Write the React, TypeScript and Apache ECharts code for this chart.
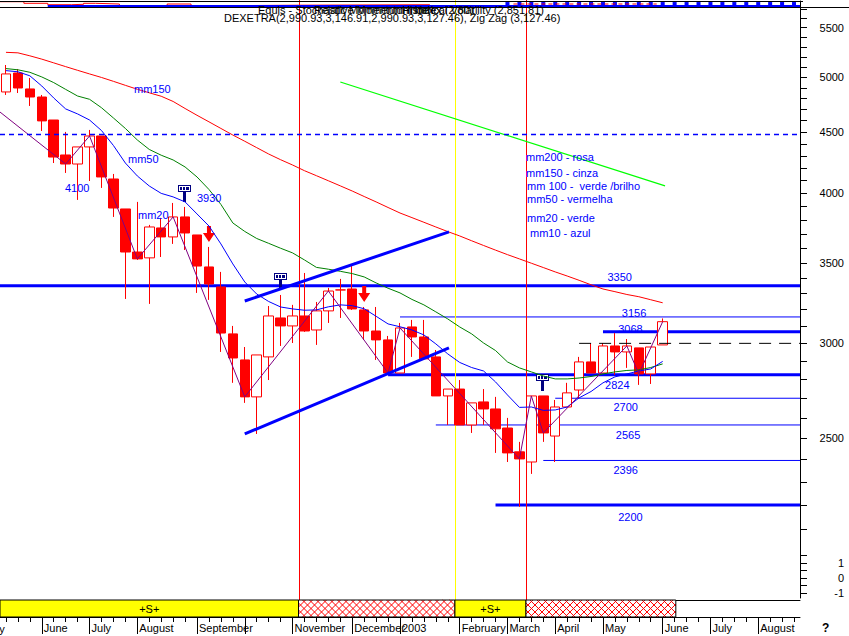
import React, { useEffect, useRef } from 'react';
import * as echarts from 'echarts';

// ---------------- data (weekly bars, week ending Friday) ----------------
const FIRST_FRIDAY = '2002-05-17';
const WEEK_SLOTS = 67;

const opens = [4861, 5041, 4889, 4814, 4606, 4307, 4233, 4374, 4467, 4113, 3883, 3575, 3535, 3744, 3680, 3824, 3694, 3474, 3343, 3055, 2906, 2707, 2923, 3150, 3102, 3162, 3078, 3193, 3324, 3330, 3199, 3072, 3020, 2834, 3096, 3037, 2923, 2712, 2748, 2565, 2681, 2645, 2550, 2436, 2389, 2712, 2511, 2655, 2743, 2895, 2834, 2985, 2951, 2974, 2829, 2990.93];
const closes = [5032, 4898, 4814, 4598, 4290, 4233, 4374, 4467, 4129, 3890, 3575, 3528, 3751, 3680, 3824, 3708, 3480, 3362, 3060, 2917, 2707, 2934, 3162, 3102, 3162, 3072, 3193, 3317, 3324, 3205, 3072, 3020, 2834, 3090, 3037, 2912, 2712, 2748, 2565, 2676, 2645, 2546, 2431, 2403, 2712, 2526, 2655, 2728, 2895, 2834, 2985, 2951, 2985, 2829, 2979, 3127.46];
const lows = [4833, 4851, 4732, 4510, 4241, 4161, 3951, 4097, 4043, 3824, 3267, 3521, 3236, 3541, 3631, 3589, 3305, 3261, 2951, 2781, 2676, 2521, 2796, 2985, 3002, 3067, 2991, 3120, 3150, 3199, 3020, 2906, 2834, 2834, 2923, 2912, 2712, 2565, 2565, 2526, 2565, 2431, 2389, 2192, 2335, 2483, 2389, 2655, 2697, 2834, 2834, 2824, 2862, 2770, 2775, 2990.93];
const highs = [5119, 5080, 4993, 4833, 4606, 4502, 4374, 4519, 4467, 4153, 3883, 3936, 3766, 3817, 3928, 3898, 3694, 3610, 3441, 3102, 2979, 2934, 3223, 3292, 3230, 3434, 3248, 3337, 3395, 3480, 3217, 3217, 3043, 3120, 3138, 3138, 2962, 2748, 2796, 2676, 2748, 2707, 2600, 2483, 2712, 2712, 2691, 2781, 2923, 3002, 3002, 3060, 3025, 2974, 2979, 3146.91];

const maBlue = [5064, 5053, 5014, 4917, 4805, 4705, 4660, 4606, 4514, 4386, 4241, 4137, 4058, 4001, 3974, 3936, 3846, 3758, 3631, 3494, 3375, 3298, 3251, 3217, 3205, 3197, 3199, 3218, 3230, 3225, 3206, 3160, 3114, 3097, 3078, 3049, 2997, 2940, 2892, 2864, 2845, 2786, 2717, 2653, 2655, 2638, 2640, 2655, 2702, 2735, 2781, 2813, 2829, 2845, 2856, 2898];
const maGreen = [5084, 5072, 5048, 5003, 4949, 4885, 4823, 4793, 4716, 4624, 4532, 4433, 4353, 4305, 4266, 4209, 4129, 4031, 3917, 3780, 3719, 3669, 3635, 3601, 3569, 3521, 3471, 3459, 3445, 3430, 3408, 3369, 3335, 3305, 3264, 3230, 3187, 3144, 3096, 3055, 3002, 2959, 2895, 2862, 2840, 2818, 2802, 2802, 2807, 2815, 2829, 2840, 2848, 2851, 2864, 2884];
const maRed = [5245, 5240, 5210, 5177, 5140, 5103, 5067, 5032, 4998, 4961, 4923, 4886, 4853, 4821, 4773, 4709, 4648, 4590, 4532, 4475, 4422, 4368, 4315, 4268, 4225, 4179, 4139, 4099, 4059, 4019, 3977, 3936, 3894, 3853, 3819, 3785, 3751, 3718, 3687, 3653, 3620, 3588, 3557, 3528, 3499, 3470, 3441, 3414, 3386, 3357, 3330, 3313, 3295, 3281, 3262, 3243];

const zigzagStart = [-0.5, 4677];
const zigzagPivots = [5, 7, 11, 14, 20, 27, 32, 33, 43, 44, 45, 52, 53, 55];
const channelUpper = [[20, 3254], [37.1, 3716]];
const channelLower = [[20, 2521], [37.1, 2974]];
const greenTrend = [[28, 4955], [55.2, 4059]];
const dashedBlueLevel = 4480;
const dashedBlackLevel = [48, 3000];

const levels = [3350, 3156, 3068, 2824, 2700, 2565, 2396, 2200];
const levelStarts = [-0.5, 33, 50, 32, 46, 36, 45, 41];

const flagWeeks = [15, 23, 45];
const sellArrowWeeks = [17, 30];
const verticalMarks = [24.5, 37.6, 43.55];
const signalRegions = [[-0.5, 24.5, 1], [24.5, 37.6, 0], [37.6, 43.55, 1], [43.55, 56.1, 0]];

const priceLabels = [2500, 3000, 3500, 4000, 4500, 5000, 5500];
const priceTicks = [2100, 2200, 2300, 2400, 2500, 2600, 2700, 2800, 2900, 3000, 3100, 3200, 3300, 3400, 3500, 3600, 3700, 3800, 3900, 4000, 4100, 4200, 4300, 4400, 4500, 4600, 4700, 4800, 4900, 5000, 5100, 5200, 5300, 5400, 5500, 5600, 5700];
const oscLabels = [-1, 0, 1];
const oscTicks = [-1, -0.5, 0, 0.5, 1, 1.5];
const hiddenMonthLabels = ['2002-10'];

// top indicator strip (0..1)
const topRedSteps = [[-0.5, 0.9], [1.5, 0.67], [3.5, 0.47], [5.5, 0.53], [6.5, 0.67], [7.5, 0.57], [9.5, 0.33], [13.5, 0.57], [15.5, 0.33], [18.5, 0.4], [24.5, 0.47], [35.5, 0.47]];
const topRedDashSteps = [[42.5, 0.57], [54.5, 0.57]];
const topBlueSteps = [[3.5, 0.3], [66.5, 0.3]];
const topCombWeeks = [42, 43, 44, 45, 46, 47, 48, 49, 50, 51, 52, 53, 54, 55, 56, 57, 58, 59, 60, 61, 62, 63, 64, 65, 66];

// ---------------- styles / layout ----------------
const BLUE = '#0000ff';
const RED = '#ff0000';
const NAVY = '#000080';
const YELLOW = '#ffff00';
const FONT = '"Liberation Sans", Arial, Helvetica, sans-serif';
const X_MIN = -0.5;
const X_MAX = 66.5;
const P_MIN = 1840;
const P_MAX = 5711;
const levelWidths = [3, 1, 3, 3, 1, 1, 1, 3];
const levelLabelAt = [51.4, 52.6, 52.3, 51.2, 51.9, 52.1, 51.9, 52.3];
const levelLabelDy = [-9, -4, -3, 10, 9, 10, 10, 12];
const verticalMarkColors = [RED, YELLOW, RED];

const L = Math.log;
const MONTHS = ['January', 'February', 'March', 'April', 'May', 'June', 'July', 'August', 'September', 'October', 'November', 'December'];

const categories: string[] = Array.from({ length: WEEK_SLOTS }, (_, i) =>
  new Date(Date.parse(FIRST_FRIDAY + 'T00:00:00Z') + i * 7 * 86400000).toISOString().slice(0, 10)
);

function monthLabel(i: number): string | null {
  const c = categories[i];
  if (!c) return null;
  const d = new Date(c + 'T00:00:00Z');
  if (d.getUTCDate() > 7) return null;
  if (hiddenMonthLabels.includes(c.slice(0, 7))) return '';
  const m = d.getUTCMonth();
  return m === 0 ? String(d.getUTCFullYear()) : MONTHS[m];
}

function txt(text: string, x: number, y: number, fill = '#000', align = 'left', size = 11, weight = 'normal') {
  return {
    type: 'text', x, y, z: 100, silent: true,
    style: {
      text, fill, font: `${weight} ${size}px ${FONT}`,
      align, textAlign: align, verticalAlign: 'middle', textVerticalAlign: 'middle',
    },
  };
}

function buildOption(): any {
  const textStyle = (fill: string, size = 11) => ({ fill, font: `normal ${size}px ${FONT}` });

  const lineSeries = (data: any[], color: string, width: number, xAxisIndex: number, extra: any = {}) => ({
    type: 'line', xAxisIndex, yAxisIndex: xAxisIndex === 0 ? 0 : 1, data, symbol: 'none', silent: true,
    lineStyle: { color, width, ...(extra.lineStyle || {}) },
  });

  const series: any[] = [
    // top strip
    { type: 'line', xAxisIndex: 0, yAxisIndex: 0, data: topRedSteps, step: 'end', symbol: 'none', silent: true, lineStyle: { color: RED, width: 1 } },
    { type: 'line', xAxisIndex: 0, yAxisIndex: 0, data: topRedDashSteps, step: 'end', symbol: 'none', silent: true, lineStyle: { color: RED, width: 1, type: [4, 3] } },
    { type: 'line', xAxisIndex: 0, yAxisIndex: 0, data: topBlueSteps, step: 'end', symbol: 'none', silent: true, lineStyle: { color: BLUE, width: 2 } },
    {
      type: 'custom', xAxisIndex: 0, yAxisIndex: 0, silent: true,
      data: topCombWeeks.map((w) => [w, 0.85]),
      renderItem: (_p: any, api: any) => {
        const a = api.coord([api.value(0), api.value(1)]);
        const b = api.coord([api.value(0), 0.25]);
        return { type: 'rect', shape: { x: a[0] - 2, y: a[1], width: 4, height: b[1] - a[1] }, style: { fill: BLUE } };
      },
    },
    // candles
    {
      type: 'candlestick', xAxisIndex: 1, yAxisIndex: 1, barWidth: 10, silent: true,
      data: opens.map((o, i) => [L(o), L(closes[i]), L(lows[i]), L(highs[i])]),
      itemStyle: { color: '#ffffff', color0: RED, borderColor: RED, borderColor0: RED, borderColorDoji: RED, borderWidth: 1 },
    },
    // moving averages
    { type: 'line', xAxisIndex: 1, yAxisIndex: 1, data: maRed.map(L), symbol: 'none', silent: true, lineStyle: { color: RED, width: 1 } },
    { type: 'line', xAxisIndex: 1, yAxisIndex: 1, data: maGreen.map(L), symbol: 'none', silent: true, lineStyle: { color: '#008000', width: 1 } },
    { type: 'line', xAxisIndex: 1, yAxisIndex: 1, data: maBlue.map(L), symbol: 'none', silent: true, lineStyle: { color: BLUE, width: 1 } },
    // zig zag
    lineSeries([[zigzagStart[0], L(zigzagStart[1])], ...zigzagPivots.map((i) => [i, L(closes[i])])], '#800080', 1, 2),
    // channel + trend
    lineSeries(channelUpper.map(([x, p]) => [x, L(p)]), BLUE, 3, 2),
    lineSeries(channelLower.map(([x, p]) => [x, L(p)]), BLUE, 3, 2),
    lineSeries(greenTrend.map(([x, p]) => [x, L(p)]), '#00ff00', 1.2, 2),
    lineSeries([[X_MIN, L(dashedBlueLevel)], [X_MAX, L(dashedBlueLevel)]], BLUE, 1.5, 2, { lineStyle: { type: [5, 4] } }),
    lineSeries([[dashedBlackLevel[0], L(dashedBlackLevel[1])], [X_MAX, L(dashedBlackLevel[1])]], '#000000', 1, 2, { lineStyle: { type: [12, 8] } }),
    // horizontal levels
    {
      type: 'custom', xAxisIndex: 2, yAxisIndex: 1, silent: true,
      data: levels.map((p, i) => [levelStarts[i], L(p), i]),
      renderItem: (_p: any, api: any) => {
        const i = api.value(2);
        const y = api.value(1);
        const s = api.coord([api.value(0), y]);
        const e = api.coord([X_MAX, y]);
        const lp = api.coord([levelLabelAt[i], y]);
        return {
          type: 'group', children: [
            { type: 'line', shape: { x1: s[0], y1: s[1], x2: e[0], y2: e[1] }, style: { stroke: BLUE, lineWidth: levelWidths[i] } },
            {
              type: 'text', x: lp[0], y: lp[1] + levelLabelDy[i],
              style: { text: String(levels[i]), ...textStyle(BLUE), align: 'center', textAlign: 'center', verticalAlign: 'middle', textVerticalAlign: 'middle' },
            },
          ],
        };
      },
    },
    // vertical event lines
    {
      type: 'custom', xAxisIndex: 2, yAxisIndex: 1, silent: true,
      data: verticalMarks.map((v) => [v, L(3000)]),
      renderItem: (params: any, api: any) => {
        const x = Math.round(api.coord([api.value(0), api.value(1)])[0]) + 0.5;
        const cs = params.coordSys;
        return { type: 'line', shape: { x1: x, y1: 0, x2: x, y2: cs.y + cs.height + 2 }, style: { stroke: verticalMarkColors[params.dataIndex], lineWidth: 1 } };
      },
    },
    // exit flags
    {
      type: 'custom', xAxisIndex: 1, yAxisIndex: 1, silent: true,
      data: flagWeeks.map((w) => [w, L(highs[w])]),
      renderItem: (_p: any, api: any) => {
        const p = api.coord([api.value(0), api.value(1)]);
        const x = Math.round(p[0]);
        const y = Math.round(p[1]);
        return {
          type: 'group', children: [
            { type: 'rect', shape: { x: x - 2, y: y - 16, width: 3, height: 11 }, style: { fill: NAVY } },
            { type: 'rect', shape: { x: x - 7, y: y - 22, width: 13, height: 7 }, style: { fill: NAVY } },
            { type: 'rect', shape: { x: x - 6, y: y - 21, width: 11, height: 5 }, style: { fill: '#ffffff' } },
            { type: 'rect', shape: { x: x - 5, y: y - 20, width: 2, height: 3 }, style: { fill: NAVY } },
            { type: 'rect', shape: { x: x - 2, y: y - 20, width: 2, height: 3 }, style: { fill: NAVY } },
            { type: 'rect', shape: { x: x + 1, y: y - 20, width: 3, height: 3 }, style: { fill: NAVY } },
          ],
        };
      },
    },
    // sell arrows
    {
      type: 'custom', xAxisIndex: 1, yAxisIndex: 1, silent: true,
      data: sellArrowWeeks.map((w) => [w, L(highs[w])]),
      renderItem: (_p: any, api: any) => {
        const p = api.coord([api.value(0), api.value(1)]);
        const x = p[0];
        const t = p[1] - 5;
        return {
          type: 'polygon',
          shape: { points: [[x - 2, t - 16], [x + 2, t - 16], [x + 2, t - 9], [x + 6, t - 9], [x, t], [x - 6, t - 9], [x - 2, t - 9]] },
          style: { fill: RED },
        };
      },
    },
    // +S+ signal strip
    {
      type: 'custom', xAxisIndex: 3, yAxisIndex: 3, silent: true,
      data: signalRegions,
      renderItem: (params: any, api: any) => {
        const a = api.coord([api.value(0), 0.5]);
        const b = api.coord([api.value(1), 0.5]);
        const cs = params.coordSys;
        const x0 = a[0], x1 = b[0], y0 = cs.y, y1 = cs.y + cs.height;
        const kind = api.value(2);
        const children: any[] = [];
        children.push({ type: 'rect', shape: { x: x0, y: y0, width: x1 - x0, height: y1 - y0 }, style: { fill: kind ? YELLOW : '#ffffff' } });
        if (kind) {
          children.push({
            type: 'text', x: (x0 + x1) / 2, y: (y0 + y1) / 2,
            style: { text: '+S+', ...textStyle('#000'), align: 'center', textAlign: 'center', verticalAlign: 'middle', textVerticalAlign: 'middle' },
          });
        } else {
          const h = y1 - y0;
          for (let s = x0 - h; s < x1; s += 7) {
            const t0 = Math.max(0, x0 - s);
            const t1 = Math.min(h, x1 - s);
            if (t1 <= t0) continue;
            children.push({ type: 'line', shape: { x1: s + t0, y1: y0 + t0, x2: s + t1, y2: y0 + t1 }, style: { stroke: RED, lineWidth: 1 } });
            children.push({ type: 'line', shape: { x1: s + t0, y1: y1 - t0, x2: s + t1, y2: y1 - t1 }, style: { stroke: RED, lineWidth: 1 } });
          }
        }
        children.push({ type: 'rect', shape: { x: x0, y: y0, width: x1 - x0, height: y1 - y0 }, style: { fill: 'none', stroke: '#000', lineWidth: 1 } });
        return { type: 'group', children };
      },
    },
  ];

  const noZero = { onZero: false };
  const hiddenValueX = (gridIndex: number) => ({
    type: 'value', gridIndex, min: X_MIN, max: X_MAX, show: false,
    axisLine: { show: false, ...noZero }, axisTick: { show: false }, axisLabel: { show: false }, splitLine: { show: false },
  });
  const labelStyle = { color: '#000', fontSize: 11, fontFamily: FONT };

  return {
    animation: false,
    backgroundColor: '#ffffff',
    textStyle: { fontFamily: FONT, fontSize: 11 },
    grid: [
      { left: 0, top: 1, width: 800, height: 7 },
      { left: 0, top: 8, width: 800, height: 590 },
      { left: 0, top: 600, width: 800, height: 17 },
    ],
    xAxis: [
      hiddenValueX(0),
      { type: 'category', gridIndex: 1, data: categories, show: false, boundaryGap: true, axisLine: { show: false, ...noZero } },
      hiddenValueX(1),
      {
        type: 'value', gridIndex: 2, min: X_MIN, max: X_MAX, position: 'top',
        axisLine: { show: true, ...noZero, lineStyle: { color: '#000', width: 1 } }, axisTick: { show: false }, axisLabel: { show: false }, splitLine: { show: false },
      },
      {
        type: 'category', gridIndex: 2, data: categories, position: 'bottom', boundaryGap: true,
        axisLine: { show: true, ...noZero, lineStyle: { color: '#000', width: 1 } },
        axisTick: { show: true, interval: 0, alignWithLabel: true, length: 5, lineStyle: { color: '#000' } },
        axisLabel: { show: false }, splitLine: { show: false },
      },
      {
        type: 'category', gridIndex: 2, data: categories, position: 'bottom', boundaryGap: true,
        axisLine: { show: false, ...noZero },
        axisTick: { show: true, alignWithLabel: true, interval: (i: number) => monthLabel(i) !== null, length: 17, lineStyle: { color: '#000' } },
        axisLabel: {
          show: true, interval: (i: number) => !!monthLabel(i), formatter: (_v: any, i: number) => monthLabel(i) || '',
          align: 'left', margin: 5, padding: [0, 0, 0, 2], ...labelStyle,
        },
        splitLine: { show: false },
      },
    ],
    yAxis: [
      {
        type: 'value', gridIndex: 0, min: 0, max: 1, position: 'right',
        axisLine: { show: true, ...noZero, lineStyle: { color: '#000' } }, axisTick: { show: false }, axisLabel: { show: false }, splitLine: { show: false },
      },
      {
        type: 'value', gridIndex: 1, min: L(P_MIN), max: L(P_MAX), position: 'right',
        axisLine: { show: true, ...noZero, lineStyle: { color: '#000', width: 1 } },
        axisTick: { show: true, length: 7, customValues: priceTicks.map(L), lineStyle: { color: '#000' } },
        axisLabel: {
          show: true, customValues: priceLabels.map(L), formatter: (v: number) => String(Math.round(Math.exp(v))),
          align: 'right', margin: 44, ...labelStyle,
        },
        splitLine: { show: false },
      },
      {
        type: 'value', gridIndex: 1, min: -4 / 3, max: 38, position: 'right',
        axisLine: { show: false, ...noZero },
        axisTick: { show: true, length: 7, customValues: oscTicks, lineStyle: { color: '#000' } },
        axisLabel: { show: true, customValues: oscLabels, formatter: (v: number) => String(Math.round(v)), align: 'right', margin: 44, ...labelStyle },
        splitLine: { show: false },
      },
      { type: 'value', gridIndex: 2, min: 0, max: 1, show: false, axisLine: { show: false, ...noZero }, splitLine: { show: false } },
    ],
    series,
    graphic: {
      elements: [
        { type: 'line', z: 50, silent: true, shape: { x1: 0, y1: 1.5, x2: 803, y2: 1.5 }, style: { stroke: '#000', lineWidth: 1 } },
        { type: 'line', z: 50, silent: true, shape: { x1: 0, y1: 7.5, x2: 849, y2: 7.5 }, style: { stroke: '#000', lineWidth: 1 } },
        txt('Equis - Stochastic Momentum Index', 258, 10),
        txt('Relative Momentum Index (2,80)', 314, 10),
        txt('Historical Volatility (2,851.81)', 544, 10, '#000', 'right'),
        txt('DEXETRA(2,990.93,3,146.91,2,990.93,3,127.46), Zig Zag (3,127.46)', 224, 18),
        txt('mm150', 134, 89, BLUE),
        txt('mm50', 128, 159, BLUE),
        txt('4100', 65, 188, BLUE),
        txt('mm20', 138, 215, BLUE),
        txt('3930', 197, 198, BLUE),
        txt('mm200 - rosa', 526, 157, BLUE),
        txt('mm150 - cinza', 526, 173, BLUE),
        txt('mm 100 -  verde /brilho', 527, 186, BLUE),
        txt('mm50 - vermelha', 527, 199, BLUE),
        txt('mm20 - verde', 527, 218, BLUE),
        txt('mm10 - azul', 530, 233, BLUE),
        txt('May', -16, 629),
        txt('?', 822, 628, '#000', 'left', 12, 'bold'),
      ],
    },
  };
}

export default function App() {
  const ref = useRef<HTMLDivElement>(null);
  useEffect(() => {
    if (!ref.current) return;
    const chart = echarts.init(ref.current, null, { renderer: 'svg', width: 849, height: 636 });
    chart.setOption(buildOption());
    return () => chart.dispose();
  }, []);
  return (
    <div
      ref={ref}
      style={{ position: 'fixed', left: 0, top: 0, width: 849, height: 636, background: '#ffffff' }}
    />
  );
}
